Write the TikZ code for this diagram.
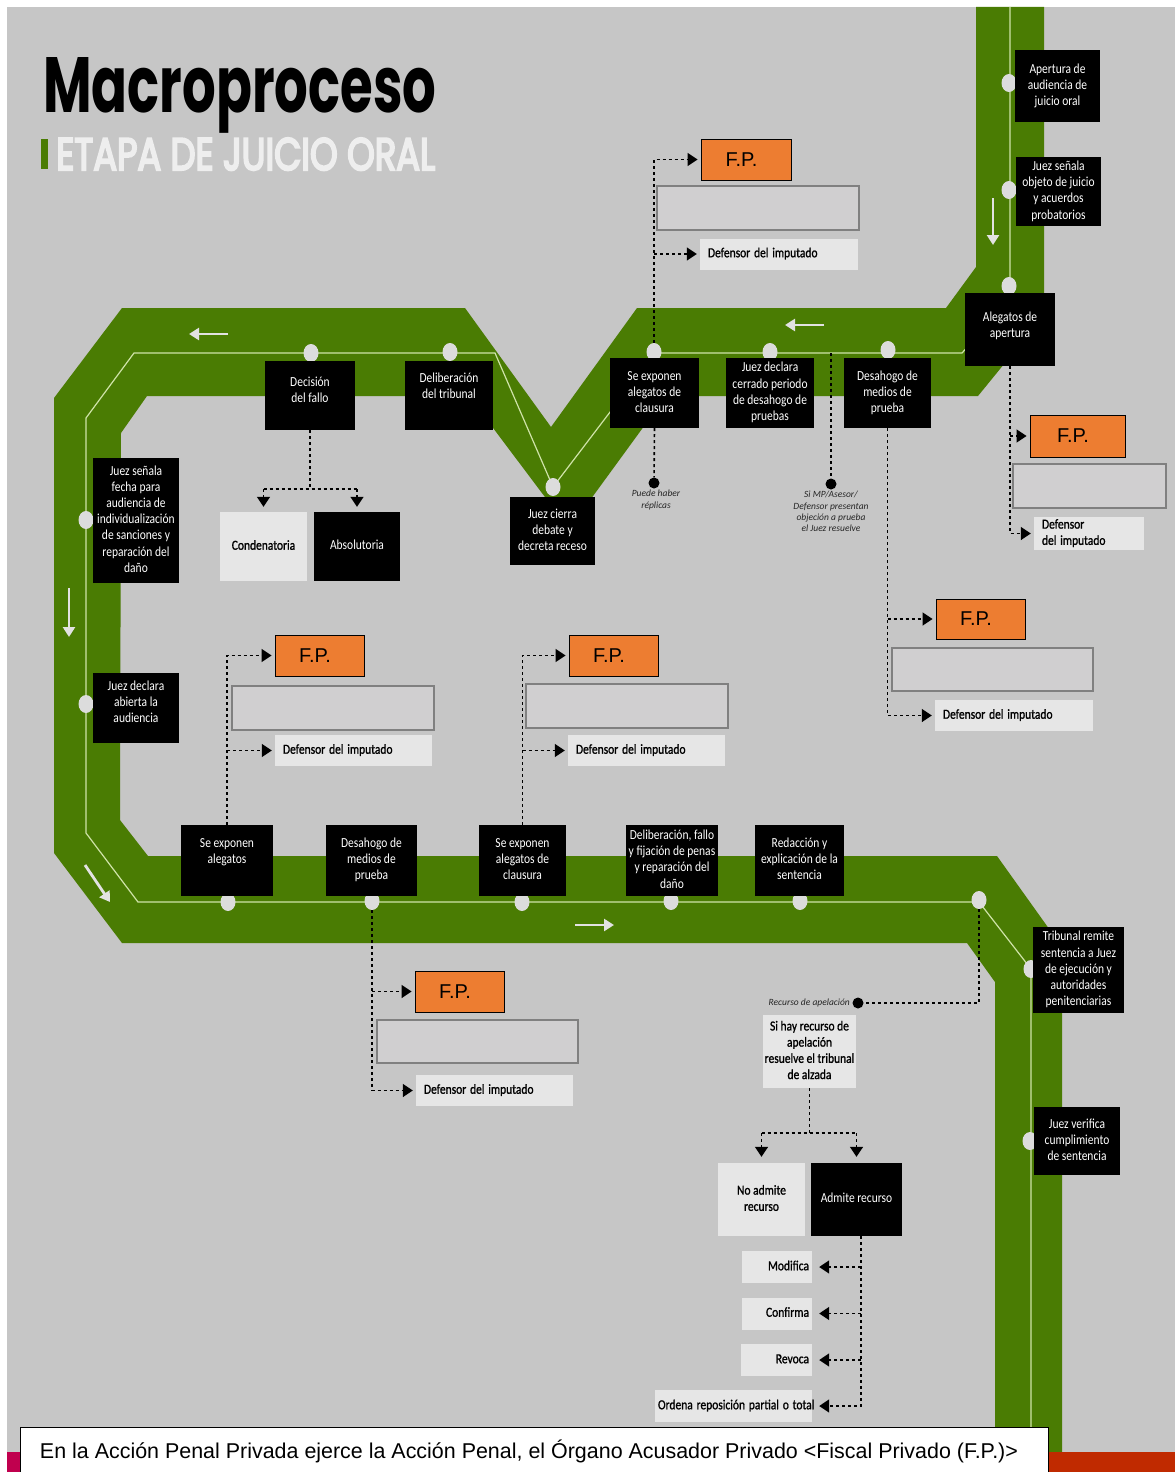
\documentclass[tikz,border=0pt]{standalone}
\usepackage{fontspec}
\usepackage{graphicx}
\setmainfont{Carlito}
\newfontfamily\titlefont{Poppins}
\newfontfamily\stagefont{Poppins}[FakeBold=5]
\newfontfamily\semifont{Carlito}[FakeBold=1.2]
\newfontfamily\arialfont{Liberation Sans}
\usetikzlibrary{shapes.geometric,arrows.meta,calc}

\definecolor{bggray}{HTML}{C6C6C6}
\definecolor{track}{HTML}{4A7C03}
\definecolor{trackline}{HTML}{CFE3A8}
\definecolor{dotgray}{HTML}{DCDCDC}
\definecolor{fporange}{HTML}{ED7D31}
\definecolor{slotgray}{HTML}{D0CFD0}
\definecolor{slotedge}{HTML}{808080}
\definecolor{pale}{HTML}{E6E6E6}
\definecolor{arrowwhite}{HTML}{E2E2E2}
\definecolor{barmagenta}{HTML}{C0004E}
\definecolor{barred}{HTML}{C02A00}
\definecolor{etapa}{HTML}{EEEEEE}

% stacked lines, slightly stretched vertically
\newcommand\stk[2][c]{\scalebox{1}[1.2]{\begin{tabular}{@{}#1@{}}#2\end{tabular}}}
% lift the text inside a box without changing the box
\newcommand\upby[2]{\raisebox{#1}[\height][\depth]{#2}}

\tikzset{
  sz/.style 2 args={minimum width=#1pt, minimum height=#2pt},
  box/.style={inner sep=0pt, font=\fontsize{11.5}{13.5}\selectfont},
  dark/.style={box, fill=black, text=white},
  light/.style={box, fill=pale, text=black, font=\semifont\fontsize{11.5}{13.5}\selectfont},
  defbox/.style={light, minimum height=31pt, inner xsep=8pt, text width=#1pt, align=left},
  resbox/.style={light, minimum height=32pt, inner xsep=3pt, text width=#1pt, align=right},
  fpbox/.style={draw=black, line width=0.9pt, fill=fporange, inner sep=0pt,
    font=\arialfont\fontsize{20}{22}\selectfont},
  slot/.style={draw=slotedge, line width=2.5pt, fill=slotgray, inner sep=0pt},
  stop/.style={ellipse, fill=dotgray, minimum width=15pt, minimum height=18pt, inner sep=0pt},
  bdot/.style={circle, fill=black, minimum size=11pt, inner sep=0pt},
  hand/.style={inner sep=0pt, align=center, text=black!85, font=\itshape\fontsize{9.5}{11.3}\selectfont},
  dashline/.style={draw=black, line width=1.6pt, dash pattern=on 3pt off 3pt},
  tip/.style={-{Triangle[length=10pt,width=13pt]}, shorten >=3pt},
  trk/.style={draw=arrowwhite, line width=2.8pt, -{Triangle[length=10pt,width=12pt]}},
}

\begin{document}
\begin{tikzpicture}[x=1pt,y=-1pt]
\useasboundingbox (0,0) rectangle (1175,1472);
\fill[white] (0,0) rectangle (1175,1472);
\fill[bggray] (7,7) rectangle (1175,1452);

% heading
\node[anchor=base west, inner sep=0pt] (title) at (43,112)
  {\resizebox{393pt}{55pt}{\titlefont\bfseries Macroproceso}};
\fill[track] (41,139) rectangle (48,169);
\node[anchor=base west, inner sep=0pt, text=etapa] (stage) at (56,170)
  {\resizebox{379pt}{32pt}{\stagefont ETAPA DE JUICIO ORAL}};

% the green track
\fill[track] (976,7) -- (976,267) -- (946,308) -- (637,308) -- (551,427) -- (465,308)
  -- (122,308) -- (54,398) -- (54,853) -- (122,943) -- (967,943) -- (995,982)
  -- (995,1452) -- (1062,1452) -- (1062,947) -- (997,856) -- (148,856) -- (120,820)
  -- (121,433) -- (147,396) -- (469,396) -- (569,529) -- (666,396) -- (978,396)
  -- (1044,315) -- (1044,7) -- cycle;
\draw[trackline, line width=1.2pt] (1010,7) -- (1010,300) -- (962,353) -- (655,353)
  -- (553,487) -- (495,353) -- (134,353) -- (86,418) -- (86,833) -- (138,902)
  -- (979,902) -- (1031,969) -- (1031,1452);

% direction arrows on the track
\draw[trk] (993,198) -- (993,245);
\draw[trk] (824,325) -- (785,325);
\draw[trk] (228,334) -- (189,334);
\draw[trk] (69,588) -- (69,637);
\draw[trk] (85,865) -- (110,902);
\draw[trk] (575,925) -- (614,925);

% stops on the track
\node[stop] (cApert) at (1009,83) {};
\node[stop] (cObj) at (1009,190) {};
\node[stop] (cAleg) at (1009,286) {};
\node[stop] (cDesU) at (888,350) {};
\node[stop] (cCerr) at (770,352) {};
\node[stop] (cClaU) at (654,352) {};
\node[stop] (cCierra) at (553,487) {};
\node[stop] (cDelib) at (450,352) {};
\node[stop] (cDecis) at (311,353) {};
\node[stop] (cFecha) at (86,520) {};
\node[stop] (cAbier) at (86,704) {};
\node[stop] (cAlegL) at (228,902) {};
\node[stop] (cDesL) at (372,901) {};
\node[stop] (cClaL) at (522,902) {};
\node[stop] (cFallo) at (671,901) {};
\node[stop] (cRedac) at (800,901) {};
\node[stop] (cJunct) at (979,900) {};
\node[stop] (cRemite) at (1031,969) {};
\node[stop] (cVerif) at (1030,1141) {};

% stage boxes
\node[dark, sz={85}{72}] (apert) at (1057.5,86) {\stk{Apertura de\\audiencia de\\juicio oral}};
\node[dark, sz={85}{69}] (objeto) at (1058.5,191.5) {\stk{Juez señala\\objeto de juicio\\y acuerdos\\probatorios}};
\node[dark, sz={90}{73}] (alegap) at (1010,329.5) {\upby{3pt}{\stk{Alegatos de\\apertura}}};
\node[dark, sz={87}{70}] (desU) at (887.5,393) {\stk{Desahogo de\\medios de\\prueba}};
\node[dark, sz={88}{70}] (cerrado) at (770,393) {\stk{Juez declara\\cerrado periodo\\de desahogo de\\pruebas}};
\node[dark, sz={89}{70}] (clausU) at (654.5,393) {\stk{Se exponen\\alegatos de\\clausura}};
\node[dark, sz={85}{68}] (cierra) at (552.5,531) {\stk{Juez cierra\\debate y\\decreta receso}};
\node[dark, sz={88}{69}] (delib) at (449,395.5) {\upby{8pt}{\stk{Deliberación\\del tribunal}}};
\node[dark, sz={90}{69}] (decis) at (310,395.5) {\upby{4pt}{\stk{Decisión\\del fallo}}};
\node[light, sz={87}{69}] (cond) at (263.5,546.5) {\stk{Condenatoria}};
\node[dark, sz={86}{69}] (absol) at (357,546.5) {\stk{Absolutoria}};
\node[dark, sz={86}{125}] (fecha) at (136,520.5) {\stk{Juez señala\\fecha para\\audiencia de\\individualización\\de sanciones y\\reparación del\\daño}};
\node[dark, sz={86}{70}] (abierta) at (136,708) {\upby{5pt}{\stk{Juez declara\\abierta la\\audiencia}}};
\node[dark, sz={92}{71}] (alegL) at (227,860.5) {\upby{8pt}{\stk{Se exponen\\alegatos}}};
\node[dark, sz={91}{71}] (desL) at (371.5,860.5) {\stk{Desahogo de\\medios de\\prueba}};
\node[dark, sz={87}{71}] (clausL) at (522.5,860.5) {\stk{Se exponen\\alegatos de\\clausura}};
\node[dark, sz={92}{71}] (fallo) at (672,860.5) {\stk{Deliberación, fallo\\y fijación de penas\\y reparación del\\daño}};
\node[dark, sz={89}{71}] (redac) at (799.5,860.5) {\stk{Redacción y\\explicación de la\\sentencia}};
\node[dark, sz={91}{86}] (remite) at (1078.5,970) {\stk{Tribunal remite\\sentencia a Juez\\de ejecución y\\autoridades\\penitenciarias}};
\node[dark, sz={86}{68}] (verif) at (1077,1141) {\stk{Juez verifica\\cumplimiento\\de sentencia}};

% appeal branch
\node[light, sz={93}{73}] (sihay) at (809.5,1051.5) {\stk{Si hay recurso de\\apelación\\resuelve el tribunal\\de alzada}};
\node[light, sz={87}{73}] (noadm) at (761.5,1199.5) {\stk{No admite\\recurso}};
\node[dark, sz={91}{73}] (admite) at (856.5,1199.5) {\stk{Admite recurso}};
\node[resbox=64] (modif) at (777,1267) {\stk{Modifica}};
\node[resbox=64] (confi) at (777,1313.5) {\stk{Confirma}};
\node[resbox=65] (revoc) at (776.5,1360) {\stk{Revoca}};
\node[resbox=151] (orden) at (733.5,1406) {\stk{Ordena reposición partial o total}};

% private prosecutor groups
\node[fpbox, sz={90}{41}] (fp1) at (746,159.5) {\hspace*{-9pt}F.P.};
\node[slot, sz={202}{44}] (slot1) at (758,208) {};
\node[defbox=142] (def1) at (779,254) {\stk{Defensor del imputado}};

\node[fpbox, sz={95}{42}] (fp2) at (1077.5,436) {\hspace*{-9pt}F.P.};
\node[slot, sz={153}{44}] (slot2) at (1089.5,486) {};
\node[defbox=94] (def2) at (1089,533.5) {\stk[l]{Defensor\\del imputado}};

\node[fpbox, sz={89}{40}] (fp3) at (980.5,619) {\hspace*{-9pt}F.P.};
\node[slot, sz={201}{43}] (slot3) at (992.5,669.5) {};
\node[defbox=142] (def3) at (1014,715.5) {\stk{Defensor del imputado}};

\node[fpbox, sz={89}{41}] (fp4) at (319.5,655.5) {\hspace*{-9pt}F.P.};
\node[slot, sz={202}{44}] (slot4) at (333,708) {};
\node[defbox=141] (def4) at (353.5,750.5) {\stk{Defensor del imputado}};

\node[fpbox, sz={89}{41}] (fp5) at (613.5,655.5) {\hspace*{-9pt}F.P.};
\node[slot, sz={202}{44}] (slot5) at (627,706) {};
\node[defbox=141] (def5) at (646.5,750.5) {\stk{Defensor del imputado}};

\node[fpbox, sz={89}{41}] (fp6) at (459.5,991.5) {\hspace*{-9pt}F.P.};
\node[slot, sz={201}{43}] (slot6) at (477.5,1041.5) {};
\node[defbox=141] (def6) at (494.5,1090.5) {\stk{Defensor del imputado}};

% notes
\node[bdot] (dotA) at (654,483) {};
\node[hand, anchor=north] (noteA) at (656,490) {Puede haber\\réplicas};
\coordinate (m1) at (831,353);
\node[bdot] (dotB) at (831,484) {};
\node[hand, anchor=north] (noteB) at (831,491) {Si MP/Asesor/\\Defensor presentan\\objeción a prueba\\el Juez resuelve};
\node[bdot] (rdot) at (858,1003) {};
\node[hand, anchor=east] (noteC) at (850,1003) {Recurso de apelación};

% dashed connectors
\draw[dashline, tip] (cClaU) |- (fp1.west);
\draw[dashline, tip] (cClaU |- def1.west) -- (def1.west);
\draw[dashline] (clausU.south) -- (dotA);
\draw[dashline] (m1) -- (dotB);

\draw[dashline, tip] (alegap.south) |- (def2.west);
\draw[dashline, tip] (alegap.south |- fp2.west) -- (fp2.west);

\draw[dashline, tip] (desU.south) |- (def3.west);
\draw[dashline, tip] (desU.south |- fp3.west) -- (fp3.west);

\draw[dashline, tip] (alegL.north) |- (fp4.west);
\draw[dashline, tip] (alegL.north |- def4.west) -- (def4.west);

\draw[dashline, tip] (clausL.north) |- (fp5.west);
\draw[dashline, tip] (clausL.north |- def5.west) -- (def5.west);

\draw[dashline, tip] (cDesL) |- (def6.west);
\draw[dashline, tip] (cDesL |- fp6.west) -- (fp6.west);

\coordinate (sp1) at (310,489);
\draw[dashline] (decis.south) -- (sp1);
\draw[dashline] (cond.north |- sp1) -- (absol.north |- sp1);
\draw[dashline, tip, shorten >=5pt] (cond.north |- sp1) -- (cond.north);
\draw[dashline, tip, shorten >=5pt] (absol.north |- sp1) -- (absol.north);

\draw[dashline] (cJunct) |- (rdot);
\coordinate (sp2) at (809.5,1133);
\draw[dashline] (sihay.south) -- (sp2);
\draw[dashline] (noadm.north |- sp2) -- (admite.north |- sp2);
\draw[dashline, tip, shorten >=6pt] (noadm.north |- sp2) -- (noadm.north);
\draw[dashline, tip, shorten >=6pt] (admite.north |- sp2) -- (admite.north);

\draw[dashline, tip, shorten >=7pt] ([xshift=4.5pt]admite.south) |- (orden.east);
\draw[dashline, tip, shorten >=7pt] ([xshift=4.5pt]admite.south |- modif.east) -- (modif.east);
\draw[dashline, tip, shorten >=7pt] ([xshift=4.5pt]admite.south |- confi.east) -- (confi.east);
\draw[dashline, tip, shorten >=7pt] ([xshift=4.5pt]admite.south |- revoc.east) -- (revoc.east);

% footer band and caption
\fill[barmagenta] (7,1452) rectangle (560,1472);
\fill[barred] (560,1452) rectangle (1175,1472);
\node[draw=black, line width=0.8pt, fill=white, inner sep=0pt, sz={1028}{48}] (caption) at (534,1451)
  {\hspace*{-10pt}\resizebox{978pt}{!}{\arialfont En la Acción Penal Privada ejerce la Acción Penal, el Órgano Acusador Privado <Fiscal Privado (F.P.)>}};
\end{tikzpicture}
\end{document}
